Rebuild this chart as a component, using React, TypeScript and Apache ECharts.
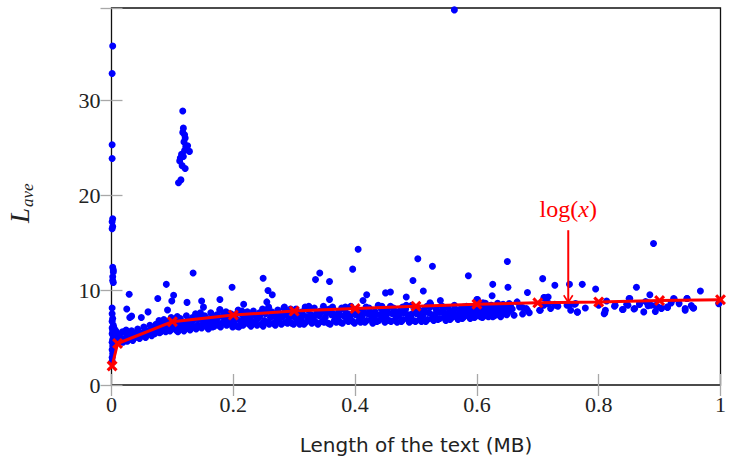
import { useEffect, useRef } from 'react';
import * as echarts from 'echarts';

const xTickValues = [0, 0.2, 0.4, 0.6, 0.8, 1];
const yTickValues = [0, 10, 20, 30];

// red log fit (markers)
const fitX = [0.001, 0.01, 0.1, 0.2, 0.3, 0.4, 0.5, 0.6, 0.7, 0.8, 0.9, 1.0];
const fitY = [2.0, 4.37, 6.67, 7.36, 7.78, 8.05, 8.3, 8.51, 8.65, 8.75, 8.89, 8.99];

// column near zero and its outliers
const nearZero = [[0.001,2.5],[0.001,2.9],[0.002,3.3],[0.001,3.7],[0.002,4.1],[0.001,4.5],[0.002,4.8],[0.003,5.1],[0.001,5.4],[0.002,5.7],[0.001,6.0],[0.003,6.3],[0.001,6.7],[0.002,7.0],[0.001,7.5],[0.001,8.1],[0.004,4.4],[0.005,4.9],[0.006,5.3],[0.007,4.6],[0.008,5.6],[0.009,5.0],[0.004,6.0],[0.006,5.8],[0.002,35.7],[0.001,32.8],[0.001,25.3],[0.001,23.85],[0.002,17.5],[0.001,17.2],[0.002,16.7],[0.001,16.45],[0.002,12.4],[0.003,12.1],[0.003,11.9],[0.002,11.4],[0.002,11.0],[0.003,10.8]];

// cluster at about 0.12 MB
const cluster = [[0.117,28.85],[0.118,27.05],[0.117,26.6],[0.12,26.35],[0.121,26.0],[0.125,25.2],[0.122,25.1],[0.128,24.6],[0.12,24.7],[0.115,24.3],[0.118,24.06],[0.113,23.9],[0.112,23.6],[0.116,23.1],[0.121,22.8],[0.114,21.6],[0.11,21.3],[0.119,25.6],[0.123,24.9]];

// dense band
const band = [
[0.011,4.5],[0.013,5.3],[0.016,4.8],[0.018,5.6],
[0.021,4.9],[0.023,5.5],[0.026,4.6],[0.028,5.2],
[0.031,5.0],[0.033,5.7],[0.035,4.7],[0.038,5.4],
[0.041,5.1],[0.043,5.9],[0.046,4.9],[0.048,5.5],
[0.051,5.3],[0.053,6.1],[0.056,5.0],[0.058,5.7],
[0.061,5.5],[0.063,6.3],[0.066,5.2],[0.068,6.0],
[0.071,5.4],[0.073,6.4],[0.076,5.8],[0.078,6.8],
[0.081,5.6],[0.083,6.2],[0.086,6.9],[0.088,5.9],
[0.091,6.0],[0.093,6.7],[0.096,5.7],[0.098,7.1],
[0.101,6.1],[0.103,6.8],[0.106,5.8],[0.108,7.2],
[0.111,6.3],[0.113,7.0],[0.116,5.9],[0.118,6.6],
[0.121,6.2],[0.123,7.3],[0.126,6.0],[0.128,6.8],
[0.131,6.4],[0.133,7.1],[0.136,6.1],[0.138,7.5],
[0.141,6.3],[0.143,6.9],[0.146,7.6],[0.148,6.0],
[0.151,6.6],[0.153,7.3],[0.156,6.2],[0.158,7.0],
[0.161,6.5],[0.163,7.6],[0.166,6.1],[0.168,7.1],
[0.171,6.7],[0.173,7.4],[0.176,6.3],[0.178,7.9],
[0.181,6.5],[0.183,7.2],[0.186,6.8],[0.188,7.7],
[0.191,6.4],[0.193,7.0],[0.196,7.5],[0.198,6.7],
[0.201,6.6],[0.203,7.4],[0.206,6.2],[0.208,7.9],
[0.211,6.8],[0.213,7.5],[0.216,6.3],[0.218,7.1],
[0.221,6.9],[0.223,7.7],[0.226,6.4],[0.228,7.3],
[0.231,6.7],[0.233,7.8],[0.236,6.5],[0.238,7.2],
[0.241,7.0],[0.243,7.6],[0.246,6.4],[0.248,8.0],
[0.251,6.8],[0.253,7.5],[0.256,6.6],[0.258,8.2],
[0.261,7.1],[0.263,7.7],[0.266,6.5],[0.268,7.3],
[0.271,6.9],[0.273,7.9],[0.276,6.7],[0.278,7.4],
[0.281,7.2],[0.283,8.1],[0.286,6.6],[0.288,7.6],
[0.291,7.0],[0.293,7.8],[0.296,6.5],[0.298,7.3],
[0.301,7.1],[0.303,8.0],[0.306,6.7],[0.308,7.5],
[0.311,6.9],[0.313,7.7],[0.316,6.4],[0.318,8.2],
[0.321,7.2],[0.323,7.9],[0.326,6.8],[0.328,7.4],
[0.331,7.0],[0.333,8.1],[0.336,6.6],[0.338,7.6],
[0.341,7.3],[0.343,7.8],[0.346,6.7],[0.348,8.3],
[0.351,7.1],[0.353,7.6],[0.356,6.5],[0.358,8.0],
[0.361,7.4],[0.363,8.2],[0.366,6.8],[0.368,7.2],
[0.371,7.0],[0.373,7.7],[0.376,6.6],[0.378,8.1],
[0.381,7.3],[0.383,7.9],[0.386,6.9],[0.388,7.5],
[0.391,7.1],[0.393,8.3],[0.396,6.7],[0.398,7.6],
[0.401,7.4],[0.403,8.0],[0.406,6.8],[0.408,7.2],
[0.411,7.2],[0.413,7.8],[0.416,6.6],[0.418,8.2],
[0.421,7.5],[0.423,8.1],[0.426,6.9],[0.428,7.3],
[0.431,7.1],[0.433,7.7],[0.436,6.7],[0.438,8.4],
[0.441,7.4],[0.443,8.0],[0.446,7.0],[0.448,7.6],
[0.451,7.2],[0.453,7.9],[0.456,6.8],[0.458,8.3],
[0.461,7.5],[0.463,8.1],[0.466,6.9],[0.468,7.3],
[0.471,7.3],[0.473,7.8],[0.476,6.7],[0.478,8.2],
[0.481,7.6],[0.483,8.0],[0.486,7.0],[0.488,7.4],
[0.491,7.2],[0.493,8.4],[0.496,6.8],[0.498,7.7],
[0.501,7.5],[0.503,8.1],[0.506,6.9],[0.508,7.3],
[0.511,7.3],[0.513,7.9],[0.516,6.7],[0.518,8.3],
[0.521,7.6],[0.523,8.2],[0.526,7.0],[0.528,7.4],
[0.531,7.4],[0.533,8.0],[0.536,6.9],[0.538,7.7],
[0.541,7.7],[0.543,8.3],[0.546,7.1],[0.548,7.5],
[0.551,7.3],[0.553,8.1],[0.556,6.9],[0.558,7.8],
[0.561,7.6],[0.563,8.4],[0.566,7.2],[0.568,7.4],
[0.571,7.5],[0.573,8.0],[0.576,7.0],[0.578,8.2],
[0.581,7.8],[0.583,8.3],[0.586,7.3],[0.588,7.6],
[0.591,7.4],[0.593,8.1],[0.596,7.1],[0.598,7.9],
[0.601,7.7],[0.603,8.5],[0.606,7.2],[0.608,8.0],
[0.611,7.5],[0.613,8.2],[0.616,7.3],[0.618,7.9],
[0.621,7.8],[0.623,8.4],[0.626,7.2],[0.628,8.1],
[0.631,7.6],[0.633,8.3],[0.636,7.4],[0.638,8.0],
[0.641,7.9],[0.643,8.5],[0.646,7.5],[0.648,8.2],
[0.652,7.7],[0.655,8.4],[0.658,8.0]
];

// more band points filling its edges
const bandEdges = [
[0.014,5.0],[0.019,4.5],[0.024,5.8],[0.029,4.8],[0.034,5.3],[0.039,5.0],[0.044,5.6],[0.049,5.2],[0.054,5.6],[0.059,5.3],[0.064,5.8],[0.069,5.5],[0.074,6.1],[0.079,5.5],[0.084,6.5],[0.089,5.6],[0.094,6.3],[0.099,5.9],
[0.104,6.4],[0.109,5.6],[0.114,6.7],[0.119,5.7],[0.124,6.5],[0.129,5.8],[0.134,6.8],[0.139,5.9],[0.144,7.2],[0.149,6.3],[0.154,6.9],[0.159,5.9],[0.164,6.8],[0.169,6.2],[0.174,7.0],[0.179,6.1],[0.184,7.5],[0.189,6.3],[0.194,7.2],[0.199,6.1],
[0.204,7.0],[0.209,6.1],[0.214,7.8],[0.219,6.5],[0.224,7.1],[0.229,6.2],[0.234,7.4],[0.239,6.3],[0.244,7.3],[0.249,6.2],[0.254,7.9],[0.259,6.4],[0.264,7.5],[0.269,6.3],[0.274,7.2],[0.279,6.4],[0.284,7.4],[0.289,6.5],[0.294,8.0],[0.299,6.4],
[0.304,7.3],[0.309,6.4],[0.314,7.4],[0.319,6.6],[0.324,8.3],[0.329,6.5],[0.334,7.3],[0.339,6.4],[0.344,7.6],[0.349,6.6],[0.354,7.9],[0.359,6.4],[0.364,7.5],[0.369,6.6],[0.374,7.3],[0.379,6.5],[0.384,8.2],[0.389,6.7],[0.394,7.4],[0.399,6.5],
[0.404,7.7],[0.409,6.6],[0.414,7.5],[0.419,6.8],[0.424,7.8],[0.429,6.5],[0.434,7.4],[0.439,6.8],[0.444,8.3],[0.449,6.6],[0.454,7.6],[0.459,6.7],[0.464,7.8],[0.469,6.6],[0.474,7.5],[0.479,6.9],[0.484,8.4],[0.489,6.6],[0.494,7.5],[0.499,6.7],
[0.504,7.8],[0.509,6.7],[0.514,7.6],[0.519,6.9],[0.524,8.5],[0.529,6.8],[0.534,7.6],[0.539,7.0],[0.544,7.9],[0.549,6.8],[0.554,7.6],[0.559,7.1],[0.564,8.0],[0.569,6.9],[0.574,7.7],[0.579,7.2],[0.584,8.1],[0.589,7.0],[0.594,7.7],[0.599,7.3],
[0.604,7.9],[0.609,7.1],[0.614,8.6],[0.619,7.2],[0.624,7.7],[0.629,7.3],[0.634,8.6],[0.639,7.2],[0.644,7.8],[0.649,7.4]
];

// sparser tail of the band
const tail = [
[0.578,8.1],[0.579,7.35],[0.591,7.45],[0.601,9.0],[0.61,8.65],[0.612,7.45],[0.624,8.4],[0.632,7.6],[0.634,8.1],[0.64,7.45],[0.647,8.36],[0.653,8.57],[0.656,7.95],[0.661,7.35],[0.666,8.75],[0.67,8.23],[0.675,7.47],[0.681,8.05],[0.686,7.6],
[0.675,8.16],[0.683,7.88],[0.703,7.88],[0.71,8.4],[0.718,8.57],[0.721,8.05],[0.729,8.4],[0.704,7.88],[0.71,9.2],[0.715,8.65],[0.728,8.5],[0.733,8.3],[0.748,8.4],[0.754,7.88],[0.76,8.5],[0.765,7.67],[0.751,8.4],[0.765,7.7],[0.762,8.57],[0.778,8.1],
[0.8,8.4],[0.811,7.88],[0.809,7.5],[0.81,7.6],[0.813,8.85],[0.827,8.4],[0.826,8.3],[0.84,7.95],[0.839,7.95],[0.846,8.5],[0.848,8.4],[0.851,9.1],[0.858,8.0],[0.859,8.05],[0.867,8.57],[0.867,8.47],[0.874,7.7],[0.877,8.8],[0.881,8.65],[0.881,8.36],[0.886,8.4],[0.893,7.74],[0.893,8.36],[0.897,8.23],
[0.903,8.05],[0.903,8.1],[0.913,8.23],[0.913,8.16],[0.919,8.65],[0.923,9.1],[0.932,8.57],[0.942,8.05],[0.942,7.88],[0.945,9.1],[0.952,8.36],[0.955,8.1],[0.956,8.1],[0.997,8.57],[0.998,8.65]
];

// scattered points above the band
const outliers = [
[0.134,11.8],[0.09,10.6],[0.029,9.55],[0.076,9.1],[0.102,9.45],[0.099,8.85],[0.124,8.7],[0.148,8.85],[0.178,9.0],[0.198,10.3],[0.025,8.0],[0.03,7.1],[0.033,7.25],[0.06,7.7],[0.049,7.1],[0.092,7.9],[0.151,8.2],[0.178,7.95],
[0.249,11.25],[0.257,9.95],[0.264,9.5],[0.255,8.75],[0.335,11.1],[0.342,11.8],[0.358,10.9],[0.358,9.0],[0.396,12.2],[0.217,8.5],[0.284,8.2],
[0.405,14.3],[0.503,13.3],[0.527,12.5],[0.495,11.0],[0.586,11.5],[0.419,9.5],[0.413,8.9],[0.45,9.7],[0.458,9.8],[0.512,9.9],[0.484,9.27],[0.523,8.65],[0.54,8.9],
[0.65,13.0],[0.626,10.6],[0.651,10.3],[0.708,11.2],[0.728,10.5],[0.752,10.6],[0.773,10.6],[0.683,9.75],[0.625,9.4],[0.6,9.0],[0.711,9.2],[0.717,9.27],
[0.89,14.9],[0.795,10.1],[0.862,10.3],[0.967,9.9],[0.884,9.5],[0.85,9.1],[0.924,9.06],[0.945,9.1],
[0.563,39.5]
];

const annotX = 0.75;
const annotTextY = 18.5;
const arrowTopY = 16.3;
const arrowTipY = 8.72;

const SERIF = '"Liberation Serif", "DejaVu Serif", serif';
const SANS = '"DejaVu Sans", "Noto Sans", sans-serif';
const CROSS = 'path://M0,2 L2,0 L5,3 L8,0 L10,2 L7,5 L10,8 L8,10 L5,7 L2,10 L0,8 L3,5 Z';

export default function App() {
  const ref = useRef<HTMLDivElement>(null);
  useEffect(() => {
    if (!ref.current) return;
    const chart = echarts.init(ref.current, undefined, { renderer: 'svg' });
    const tickStyle = { show: true, inside: true, length: 11, lineStyle: { color: '#a8a8a8', width: 1.3 } };
    const fitData = fitX.map((x, i) => [x, fitY[i]]);
    chart.setOption({
      animation: false,
      backgroundColor: '#ffffff',
      grid: { left: 111.5, right: 2.5, top: 8, bottom: 71, show: true, borderColor: '#111', borderWidth: 1.3, backgroundColor: 'transparent' },
      xAxis: [
        {
          type: 'value', min: 0, max: 1, interval: 0.2, position: 'bottom',
          axisLine: { show: false }, splitLine: { show: false },
          axisTick: tickStyle,
          axisLabel: { margin: 8, fontFamily: SERIF, fontSize: 22, color: '#222', formatter: (v: number) => (xTickValues.some(t => Math.abs(t - v) < 1e-9) ? String(+v.toFixed(1)) : '') },
          name: 'Length of the text (MB)', nameLocation: 'middle', nameGap: 50,
          nameTextStyle: { fontFamily: SANS, fontSize: 20, color: '#222' },
        },
        {
          type: 'value', min: 0, max: 1, interval: 0.2, position: 'top',
          axisLine: { show: false }, splitLine: { show: false },
          axisTick: tickStyle, axisLabel: { show: false },
        },
      ],
      yAxis: [
        {
          type: 'value', min: 0, max: 39.7, interval: 10, position: 'left',
          axisLine: { show: false }, splitLine: { show: false },
          axisTick: tickStyle,
          axisLabel: { margin: 11, fontFamily: SERIF, fontSize: 22, color: '#222', formatter: (v: number) => (yTickValues.includes(v) ? String(v) : '') },
        },
        {
          type: 'value', min: 0, max: 39.7, interval: 10, position: 'right',
          axisLine: { show: false }, splitLine: { show: false },
          axisTick: tickStyle, axisLabel: { show: false },
        },
      ],
      series: [
        {
          type: 'scatter', xAxisIndex: 0, yAxisIndex: 0, clip: false,
          symbol: 'circle', symbolSize: 7,
          itemStyle: { color: '#0000ff', opacity: 1 },
          data: [...nearZero, ...cluster, ...band, ...bandEdges, ...tail, ...outliers],
          z: 2,
        },
        {
          type: 'line', xAxisIndex: 0, yAxisIndex: 0,
          data: fitData, symbol: CROSS, symbolSize: 11, showAllSymbol: true,
          lineStyle: { color: '#ff0000', width: 3 },
          itemStyle: { color: '#ff0000', borderWidth: 0 },
          z: 3,
        },
      ],
    });

    const top = chart.convertToPixel({ gridIndex: 0 }, [annotX, arrowTopY]) as number[];
    const tip = chart.convertToPixel({ gridIndex: 0 }, [annotX, arrowTipY]) as number[];
    const txt = chart.convertToPixel({ gridIndex: 0 }, [annotX, annotTextY]) as number[];
    chart.setOption({
      graphic: [
        { type: 'line', shape: { x1: top[0], y1: top[1], x2: tip[0], y2: tip[1] - 1 }, style: { stroke: '#ff0000', lineWidth: 2 }, z: 10 },
        { type: 'polyline', shape: { points: [[tip[0] - 4.5, tip[1] - 7], [tip[0], tip[1]], [tip[0] + 4.5, tip[1] - 7]] }, style: { stroke: '#ff0000', lineWidth: 1.6, fill: null }, z: 10 },
        {
          type: 'text', x: txt[0], y: txt[1], z: 10,
          style: {
            text: '{n|log(}{i|x}{n|)}', textAlign: 'center', textVerticalAlign: 'middle', align: 'center', verticalAlign: 'middle',
            rich: {
              n: { fontFamily: SERIF, fontSize: 24, fill: '#ff0000', color: '#ff0000' },
              i: { fontFamily: SERIF, fontSize: 24, fontStyle: 'italic', fill: '#ff0000', color: '#ff0000' },
            },
          },
        },
        {
          type: 'group', x: 33, y: 223, rotation: Math.PI / 2,
          children: [
            { type: 'text', x: 0, y: 0, style: { text: 'L', fontFamily: SERIF, fontSize: 27, fontStyle: 'italic', fill: '#222', textAlign: 'left', textVerticalAlign: 'bottom', align: 'left', verticalAlign: 'bottom' } },
            { type: 'text', x: 16, y: 3, style: { text: 'ave', fontFamily: SERIF, fontSize: 17, fontStyle: 'italic', fill: '#222', textAlign: 'left', textVerticalAlign: 'bottom', align: 'left', verticalAlign: 'bottom' } },
          ],
        },
      ],
    });
    return () => chart.dispose();
  }, []);
  return <div ref={ref} style={{ position: 'fixed', left: 0, top: 0, width: 729, height: 460, overflow: 'hidden' }} />;
}
